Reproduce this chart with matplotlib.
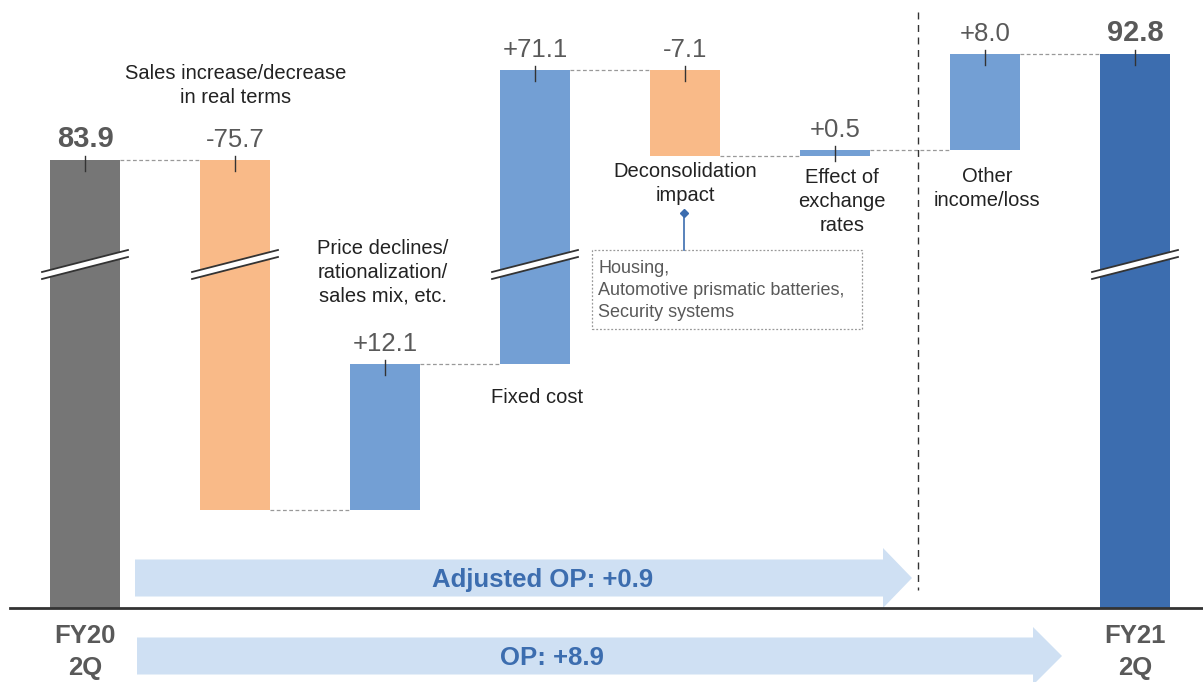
import matplotlib
matplotlib.use("Agg")
import matplotlib.pyplot as plt
from matplotlib.patches import FancyArrow, Rectangle

plt.rcParams['font.family'] = ['Liberation Sans', 'DejaVu Sans']

# --- data ---
labels = ["FY20\n2Q", "Sales increase/decrease\nin real terms",
          "Price declines/\nrationalization/\nsales mix, etc.", "Fixed cost",
          "Deconsolidation\nimpact", "Effect of\nexchange\nrates",
          "Other\nincome/loss", "FY21\n2Q"]
values = [83.9, -75.7, 12.1, 71.1, -7.1, 0.5, 8.0, 92.8]
value_text = ["83.9", "-75.7", "+12.1", "+71.1", "-7.1", "+0.5", "+8.0", "92.8"]
is_total = [True, False, False, False, False, False, False, True]
is_broken = [True, True, False, True, False, False, False, True]
BREAK_GAP = 46.6   # amount cut out of a bar with a break mark

colors = {"total0": "#767676", "total1": "#3C6DAF", "up": "#739FD4", "down": "#F9BA88"}
note_lines = ["Housing,", "Automotive prismatic batteries,", "Security systems"]

# --- layout helpers (px of the 1203x682 canvas -> data units) ---
def px_x(p):
    return (p - 85) / 150.0

def px_y(p):
    return (608 - p) / 12.0

fig = plt.figure(figsize=(12.03, 6.82), dpi=100)
ax = fig.add_axes([0, 0, 1, 1])
ax.set_xlim(px_x(0), px_x(1203))
ax.set_ylim(px_y(682), px_y(0))
ax.axis("off")

W = 0.473
grey = "#595959"
level = 0.0
tops = []
for i, v in enumerate(values):
    shown = v
    if is_broken[i]:
        shown = v - BREAK_GAP if v > 0 else v + BREAK_GAP
    if is_total[i]:
        bottom, top = 0.0, shown
        level = shown
        c = colors["total0"] if i == 0 else colors["total1"]
    else:
        bottom, top = sorted([level, level + shown])
        c = colors["up"] if v > 0 else colors["down"]
        level = level + shown
    ax.bar(i, top - bottom, bottom=bottom, width=W, color=c, zorder=2)
    tops.append((bottom, top, level))
    # tick through top edge
    ax.plot([i, i], [top + 4 / 12, top - 11 / 12], color="#333333", lw=1, zorder=3)
    ax.text(i, top + 13 / 12, value_text[i], ha="center", va="baseline",
            fontsize=21 if is_total[i] else 18.5, color=grey,
            fontweight="bold" if is_total[i] else "normal", zorder=4)
    # break mark
    if is_broken[i]:
        yb = px_y(268)
        hw = W / 2 + 0.05
        rise = 22 / 12
        gap = 7 / 12
        xs = [i - hw, i + hw, i + hw, i - hw]
        ys = [yb - rise / 2, yb + rise / 2, yb + rise / 2 + gap, yb - rise / 2 + gap]
        ax.fill(xs, ys, color="white", zorder=3, lw=0)
        ax.plot(xs[:2], ys[:2], color="#333333", lw=1.3, zorder=3)
        ax.plot(xs[2:], ys[2:], color="#333333", lw=1.3, zorder=3)

# dashed connectors between bars
for i in range(len(values) - 1):
    lvl = tops[i][2]
    ax.plot([i + W / 2, i + 1 - W / 2], [lvl, lvl], color="#999999", lw=0.9,
            ls=(0, (3, 2)), zorder=1)

# category labels
lab_pos = {1: (px_x(236), px_y(64)), 2: (px_x(383), px_y(239)), 3: (px_x(537), px_y(388)),
           4: (px_x(685), px_y(162)), 5: (px_x(842), px_y(168)), 6: (px_x(987), px_y(167))}
for i, (x, y) in lab_pos.items():
    ax.text(x, y, labels[i], ha="center", va="top", fontsize=14.5, color="#222222",
            linespacing=1.32)

# base labels
ax.text(0, px_y(652), labels[0], ha="center", va="center", fontsize=18.5,
        fontweight="bold", color=grey, linespacing=1.45)
ax.text(7, px_y(652), labels[7], ha="center", va="center", fontsize=18.5,
        fontweight="bold", color=grey, linespacing=1.45)

# baseline
ax.plot([px_x(10), px_x(1203)], [0, 0], color="#333333", lw=2, zorder=5)

# vertical dashed separator
ax.plot([px_x(918)] * 2, [px_y(12), px_y(590)], color="#333333", lw=1,
        ls=(0, (5, 4)), zorder=1)

# note box
ax.add_patch(Rectangle((px_x(592), px_y(329)), px_x(862) - px_x(592),
                       px_y(250) - px_y(329), fill=False, ec="#999999", lw=0.9,
                       ls=(0, (1.5, 1.5))))
ax.text(px_x(598), px_y(260), "\n".join(note_lines), ha="left", va="top",
        fontsize=13, color=grey, linespacing=1.38)
ax.plot([px_x(684)] * 2, [px_y(213), px_y(250)], color="#3C6DAF", lw=1.2)
ax.plot(px_x(684), px_y(213), marker="D", ms=4, color="#3C6DAF")

# arrows
arrow_c = "#CFE0F3"
for x0, x1, yc, hw, tx, txt in [(135, 912, 578, 60, 543, "Adjusted OP: +0.9"),
                                (137, 1062, 656, 58, 552, "OP: +8.9")]:
    ax.add_patch(FancyArrow(px_x(x0), px_y(yc), px_x(x1) - px_x(x0), 0,
                            width=37 / 12, head_width=hw / 12, head_length=29 / 150,
                            length_includes_head=True, color=arrow_c, lw=0, zorder=1))
    ax.text(px_x(tx), px_y(yc + 2), txt, ha="center", va="center",
            fontsize=18.5, fontweight="bold", color="#3C6DAF", zorder=2)

fig.savefig("out.png", dpi=100)
